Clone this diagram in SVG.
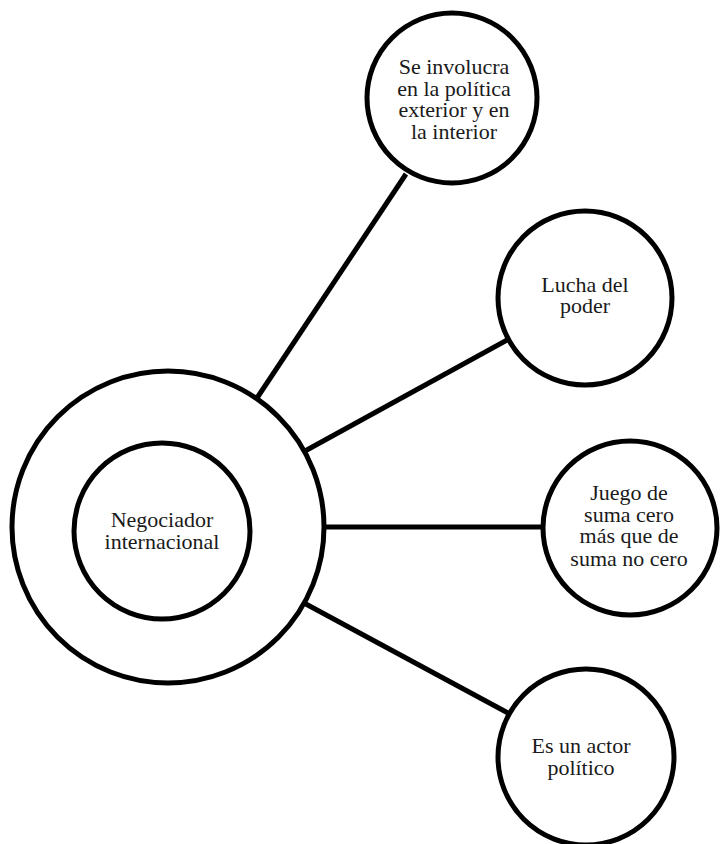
<svg xmlns="http://www.w3.org/2000/svg" width="720" height="844" viewBox="0 0 720 844">
  <style>
    .ring { fill: #ffffff; stroke: #000000; stroke-width: 5; }
    .link { stroke: #000000; stroke-width: 5; fill: none; }
    .label { font-family: "Liberation Serif", "Times New Roman", serif; font-size: 22px; fill: #1a1a1a; text-anchor: middle; }
  </style>
  <rect width="720" height="844" fill="#ffffff"/>

  <!-- connectors from the central node to each satellite -->
  <g id="connectors">
    <line class="link" x1="257" y1="398" x2="406" y2="174"/>
    <line class="link" x1="305" y1="451" x2="509" y2="339"/>
    <line class="link" x1="324" y1="527" x2="545" y2="527" stroke-width="6"/>
    <line class="link" x1="304" y1="603" x2="508" y2="713"/>
  </g>

  <!-- central node: outer ring with inner circle -->
  <g id="negociador">
    <circle class="ring" cx="168" cy="527" r="156"/>
    <circle class="ring" cx="162" cy="531" r="88"/>
    <text class="label" x="162" y="527">Negociador</text>
    <text class="label" x="162" y="549">internacional</text>
  </g>

  <g id="involucra">
    <circle class="ring" cx="452" cy="98" r="85"/>
    <text class="label" x="454" y="74">Se involucra</text>
    <text class="label" x="454" y="96">en la política</text>
    <text class="label" x="454" y="117">exterior y en</text>
    <text class="label" x="454" y="139">la interior</text>
  </g>

  <g id="lucha">
    <circle class="ring" cx="585" cy="298" r="87"/>
    <text class="label" x="585" y="292">Lucha del</text>
    <text class="label" x="585" y="313">poder</text>
  </g>

  <g id="juego">
    <circle class="ring" cx="630" cy="528" r="87"/>
    <text class="label" x="629" y="500">Juego de</text>
    <text class="label" x="629" y="522">suma cero</text>
    <text class="label" x="629" y="543">más que de</text>
    <text class="label" x="629" y="566">suma no cero</text>
  </g>

  <g id="actor">
    <circle class="ring" cx="586" cy="757" r="88"/>
    <text class="label" x="581" y="753">Es un actor</text>
    <text class="label" x="581" y="775">político</text>
  </g>
</svg>
